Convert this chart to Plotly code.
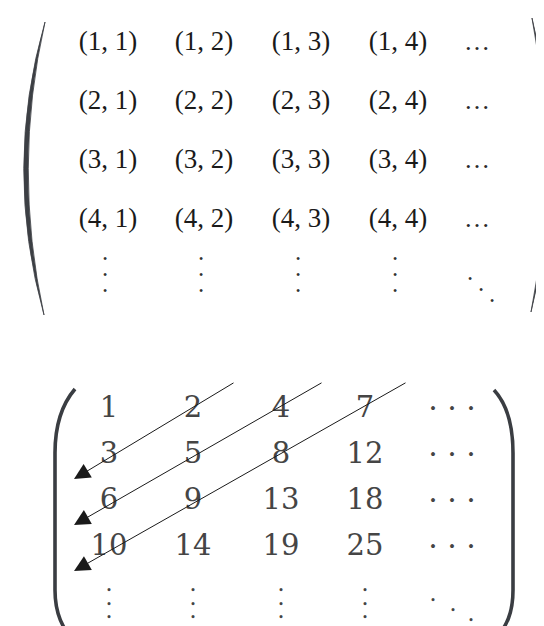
import plotly.graph_objects as go

# ---------------- data ----------------
row_index = [1, 2, 3, 4]
col_index = [1, 2, 3, 4]
cantor_values = [
    [1, 2, 4, 7],
    [3, 5, 8, 12],
    [6, 9, 13, 18],
    [10, 14, 19, 25],
]
arrow_diagonals = [1, 2, 3]  # anti-diagonals traversed by the arrows

# ---------------- layout constants (pixels) ----------------
W, H = 544, 626
UP_COL_X = [100, 196, 293, 390]
UP_ELL_X = 469
UP_ROW_Y = [35, 94, 153, 212]
UP_VDOT_Y = 268
UP_DDOT = [(-7, 272), (4, 283), (15, 294)]  # x relative to UP_ELL_X

LO_COL_X = [101, 185, 273, 357]
LO_ELL_X = 444
LO_ROW_Y = [402, 448, 494, 540]
LO_VDOT_Y = 597
LO_DDOT = [(-19, 593), (1, 603), (19, 613)]  # x relative to LO_ELL_X

UP_FONT = dict(family="Liberation Serif", size=27, color="#1a1a1a")
UP_ELL_FONT = dict(family="Liberation Serif", size=26, color="#2a2a2a")
UP_DOT_FONT = dict(family="Liberation Serif", size=12, color="#333333")
LO_FONT = dict(family="DejaVu Serif", size=29, color="#454545")
LO_ELL_FONT = dict(family="DejaVu Serif", size=30, color="#454545")
LO_DOT_FONT = dict(family="DejaVu Serif", size=10.2, color="#454545")

VDOTS = "\u2022<br>\u2022<br>\u2022"

fig = go.Figure()


def add_text(xs, ys, texts, font):
    fig.add_trace(go.Scatter(
        x=xs, y=ys, text=texts, mode="text", textposition="middle center",
        textfont=font, hoverinfo="skip", showlegend=False, cliponaxis=False,
    ))


# ---- upper matrix: index pairs ----
xs, ys, ts = [], [], []
for i, r in enumerate(row_index):
    for j, c in enumerate(col_index):
        xs.append(UP_COL_X[j]); ys.append(UP_ROW_Y[i]); ts.append(f"({r}, {c})")
add_text(xs, ys, ts, UP_FONT)
add_text([UP_ELL_X] * len(row_index), UP_ROW_Y, ["\u2026"] * len(row_index), UP_ELL_FONT)
add_text([x - 3 for x in UP_COL_X], [UP_VDOT_Y] * len(col_index),
         [VDOTS] * len(col_index), UP_DOT_FONT)
add_text([UP_ELL_X + dx for dx, _ in UP_DDOT], [y for _, y in UP_DDOT],
         ["\u2022"] * 3, UP_DOT_FONT)

# ---- lower matrix: Cantor numbering ----
xs, ys, ts = [], [], []
for i, row in enumerate(cantor_values):
    for j, v in enumerate(row):
        xs.append(LO_COL_X[j]); ys.append(LO_ROW_Y[i]); ts.append(str(v))
add_text(xs, ys, ts, LO_FONT)
add_text([LO_ELL_X] * len(cantor_values), LO_ROW_Y,
         ["\u00b7\u00a0\u00b7\u00a0\u00b7"] * len(cantor_values), LO_ELL_FONT)
add_text(LO_COL_X, [LO_VDOT_Y] * len(col_index), [VDOTS] * len(col_index), LO_DOT_FONT)
add_text([LO_ELL_X + dx for dx, _ in LO_DDOT], [y for _, y in LO_DDOT],
         ["\u2022"] * 3, LO_DOT_FONT)

# ---- arrows along anti-diagonals ----
annotations = []
for d in arrow_diagonals:
    tail = (LO_COL_X[d] + 42, LO_ROW_Y[0] - 28)
    tip = (LO_COL_X[0] - 35, LO_ROW_Y[d] + 23)
    annotations.append(dict(
        x=tip[0], y=tip[1], ax=tail[0], ay=tail[1], xref="x", yref="y",
        axref="x", ayref="y", text="", showarrow=True, arrowhead=2,
        arrowsize=3.2, arrowwidth=1, arrowcolor="#1a1a1a", standoff=0,
    ))

# ---- parentheses ----
shapes = [
    dict(type="path", path="M 37 14 Q -5 160 36 307 Q 4 160 37 14 Z",
         fillcolor="#3c3f44", line=dict(color="#3c3f44", width=0.8)),
    dict(type="path", path="M 524 10 Q 560 157 523 304 Q 552 157 524 10 Z",
         fillcolor="#3c3f44", line=dict(color="#3c3f44", width=0.8)),
    dict(type="path",
         path="M 67 381 C 55 395 47 415 47 445 L 47 582 C 47 606 55 621 66 634",
         line=dict(color="#3a3d42", width=3.6)),
    dict(type="path",
         path="M 486 382 C 498 395 505 415 505 445 L 505 582 C 505 606 498 618 489 630",
         line=dict(color="#3a3d42", width=3.6)),
]

fig.update_layout(
    width=W, height=H, margin=dict(l=0, r=0, t=0, b=0),
    paper_bgcolor="white", plot_bgcolor="white",
    xaxis=dict(range=[0, W], visible=False, fixedrange=True),
    yaxis=dict(range=[H, 0], visible=False, fixedrange=True),
    shapes=shapes, annotations=annotations, showlegend=False,
)

fig.write_html("out.html")
